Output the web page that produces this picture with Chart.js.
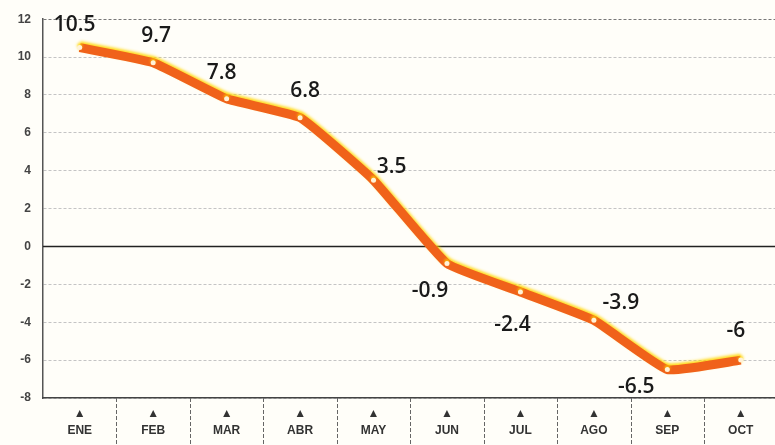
<!DOCTYPE html>
<html>
<head>
<meta charset="utf-8">
<script src="https://cdn.jsdelivr.net/npm/chart.js@4/dist/chart.umd.min.js"></script>
<style>
  html, body { margin: 0; padding: 0; background: #fffef9; overflow: hidden; }
  #wrap { position: relative; width: 780px; height: 445px; }
</style>
</head>
<body>
<div id="wrap"><canvas id="chart"></canvas></div>
<script>
// ---- data ----
const months = ['ENE', 'FEB', 'MAR', 'ABR', 'MAY', 'JUN', 'JUL', 'AGO', 'SEP', 'OCT'];
const values = [10.5, 9.7, 7.8, 6.8, 3.5, -0.9, -2.4, -3.9, -6.5, -6];
const yTicks = [12, 10, 8, 6, 4, 2, 0, -2, -4, -6, -8];

// label nudges (px) relative to each point
const labelDx = [-5, 3, -5, 5, 18, -17, -8, 27, -31, -5];
const labelDy = [-23, -27, -26, -27, -13, 27, 33, -17, 17, -29];

const glowLine = {
  id: 'glowLine',
  beforeDatasetDraw(chart) {
    const ctx = chart.ctx;
    ctx.save();
    ctx.shadowColor = 'rgba(255, 214, 0, 0.9)';
    ctx.shadowOffsetY = -2;
    ctx.shadowOffsetX = 0;
    ctx.shadowBlur = 3;
  },
  afterDatasetDraw(chart) {
    chart.ctx.restore();
  }
};

const valueLabels = {
  id: 'valueLabels',
  afterDatasetsDraw(chart) {
    const ctx = chart.ctx;
    const meta = chart.getDatasetMeta(0);
    ctx.save();
    ctx.font = '600 21px "Open Sans", sans-serif';
    ctx.fillStyle = '#1a1a1a';
    ctx.textAlign = 'center';
    ctx.textBaseline = 'middle';
    meta.data.forEach((pt, i) => {
      ctx.fillText(String(values[i]), pt.x + labelDx[i], pt.y + labelDy[i]);
    });
    ctx.restore();
  }
};

// zero line + month separators under the axis
const extraLines = {
  id: 'extraLines',
  beforeDatasetsDraw(chart) {
    const { ctx, chartArea, scales } = chart;
    const y = scales.y.getPixelForValue(0);
    ctx.save();
    ctx.strokeStyle = '#222';
    ctx.lineWidth = 1.5;
    ctx.beginPath();
    ctx.moveTo(chartArea.left, y);
    ctx.lineTo(chartArea.right, y);
    ctx.stroke();

    const xs = scales.x;
    ctx.strokeStyle = '#666';
    ctx.lineWidth = 1;
    ctx.setLineDash([4, 2]);
    for (let i = 0; i < months.length - 1; i++) {
      const sx = Math.round((xs.getPixelForValue(i) + xs.getPixelForValue(i + 1)) / 2) + 0.5;
      ctx.beginPath();
      ctx.moveTo(sx, chartArea.bottom);
      ctx.lineTo(sx, chart.height);
      ctx.stroke();
    }
    ctx.restore();
  }
};

new Chart(document.getElementById('chart'), {
  type: 'line',
  data: {
    labels: months.map(m => ['▲', m]),
    datasets: [{
      data: values,
      borderColor: '#f0621a',
      borderWidth: 9,
      tension: 0.12,
      pointRadius: 2.5,
      pointBackgroundColor: '#fff2d8',
      pointBorderWidth: 0,
      pointHoverRadius: 2.5
    }]
  },
  options: {
    responsive: true,
    maintainAspectRatio: false,
    animation: false,
    layout: { padding: { top: 15, right: 0, left: 0, bottom: 0 } },
    plugins: {
      legend: { display: false },
      tooltip: { enabled: false }
    },
    scales: {
      y: {
        min: -8,
        max: 12,
        afterFit(scale) { scale.width = 43; },
        afterBuildTicks(scale) { scale.ticks = yTicks.map(v => ({ value: v })); },
        border: { display: true, color: '#555', width: 1.5, dash: [3, 2] },
        grid: {
          color: ctx => ctx.tick && ctx.tick.value === 12 ? '#777' : '#c4c4c4',
          lineWidth: 1,
          drawTicks: false
        },
        ticks: {
          color: '#444',
          padding: 12,
          font: { size: 12, family: '"Liberation Sans Narrow", sans-serif', weight: 'bold' }
        }
      },
      x: {
        offset: true,
        afterFit(scale) { scale.height = 47; },
        border: { display: true, color: '#444', width: 1.5 },
        grid: {
          drawOnChartArea: false,
          drawTicks: false
        },
        ticks: {
          color: '#333',
          padding: 7,
          maxRotation: 0,
          autoSkip: false,
          font: { size: 12, family: '"Liberation Sans Narrow", sans-serif', weight: 'bold', lineHeight: 1.4 }
        }
      }
    }
  },
  plugins: [extraLines, glowLine, valueLabels]
});
</script>
</body>
</html>
